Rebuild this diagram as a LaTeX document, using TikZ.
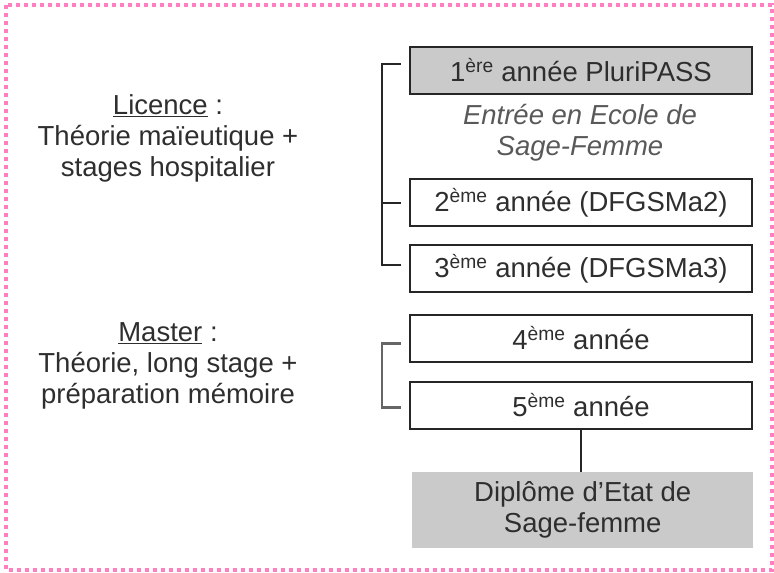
\documentclass[tikz,border=0pt]{standalone}
\usepackage{fontspec}
\setmainfont{Liberation Sans}
\usetikzlibrary{calc}
\definecolor{pinkdot}{HTML}{FF7FC2}
\definecolor{txt}{HTML}{2E2E2E}
\definecolor{boxgray}{HTML}{CACACA}
\begin{document}
\begin{tikzpicture}[x=1pt,y=-1pt,
  yearbox/.style={draw=black!85,line width=2pt,minimum width=342pt,minimum height=47pt,inner sep=0pt,text=txt,font=\fontsize{27.5}{31}\selectfont},
  sidetext/.style={align=center,text=txt,font=\fontsize{27.5}{31}\selectfont},
  brace/.style={line width=2pt,black!85}]
\useasboundingbox (0,0) rectangle (774,573);
\draw[pinkdot,line width=3.5pt,dash pattern=on 3.8pt off 4.2pt] (6,5) rectangle (772,570);
\node[yearbox,fill=boxgray,anchor=north west] (y1) at (409,46) {1\textsuperscript{ère} année PluriPASS};
\node[align=center,text=black!65,font=\fontsize{27.5}{31}\selectfont\itshape] (entree) at (580,133) {Entrée en Ecole de\\Sage-Femme};
\node[yearbox,anchor=north west] (y2) at (409,178) {2\textsuperscript{ème} année (DFGSMa2)};
\node[yearbox,anchor=north west] (y3) at (409,244) {3\textsuperscript{ème} année (DFGSMa3)};
\node[yearbox,anchor=north west] (y4) at (409,314) {4\textsuperscript{ème} année};
\node[yearbox,anchor=north west] (y5) at (409,381) {5\textsuperscript{ème} année};
\node[fill=boxgray,minimum width=341pt,minimum height=76pt,inner sep=0pt,anchor=north west,align=center,text=txt,font=\fontsize{27.5}{31}\selectfont] (dip) at (412,472) {Diplôme d'Etat de\\Sage-femme};
\node[sidetext] (lic) at (168,138) {\underline{Licence} :\\Théorie maïeutique +\\stages hospitalier};
\node[sidetext] (mas) at (168,366) {\underline{Master} :\\Théorie, long stage +\\préparation mémoire};
% brackets
\draw[brace] ($(y1.west)+(-8,-7)$) -- ++(-19,0) coordinate (c1) |- ($(y3.west)+(-8,-4)$);
\draw[brace] (c1 |- y2.west) -- ($(y2.west)+(-8,0)$);
\draw[line width=2.2pt,black!60] ($(y4.west)+(-8,5)$) -- ++(-19,0) |- ($(y5.west)+(-8,2)$);
\draw[line width=2pt,black!85] (y5.south) -- (dip.north -| y5.south);
\end{tikzpicture}
\end{document}
